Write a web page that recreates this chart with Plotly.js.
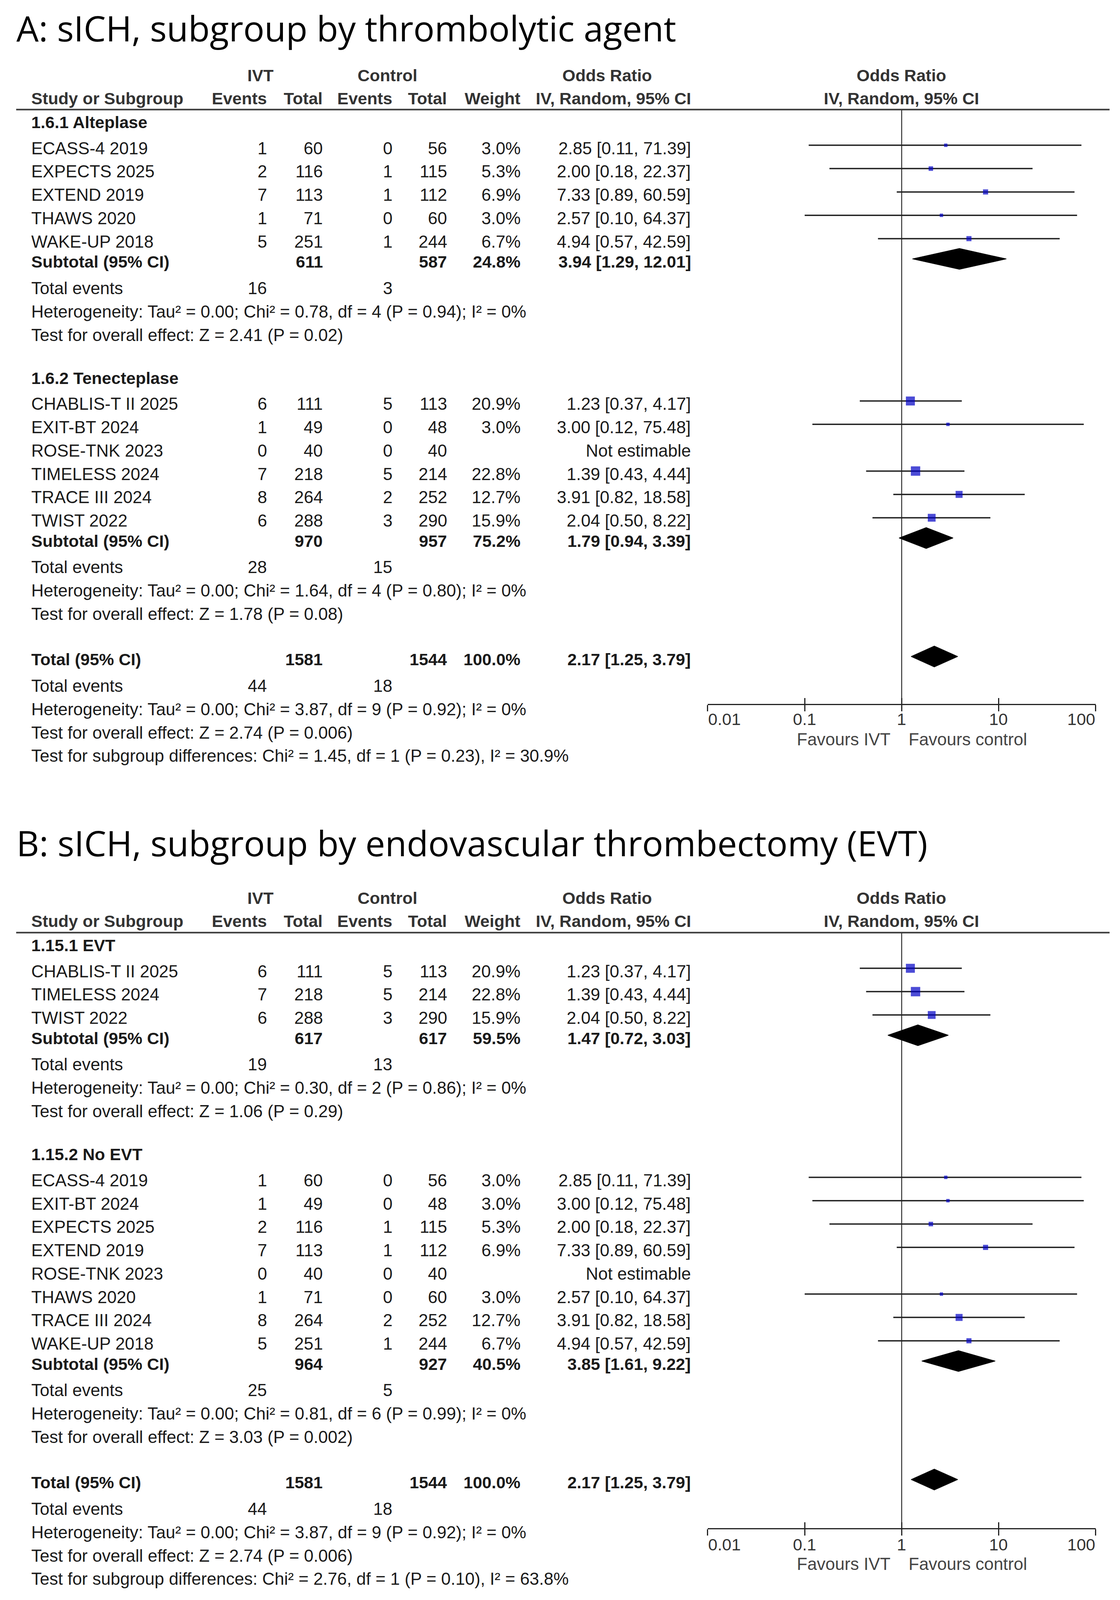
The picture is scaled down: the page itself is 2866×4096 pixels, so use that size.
<!DOCTYPE html>
<html><head><meta charset="utf-8">
<script src="https://cdn.plot.ly/plotly-3.0.1.min.js"></script>
<style>html,body{margin:0;padding:0;background:#fff;}#chart{width:2866px;height:4096px;}</style>
</head><body><div id="chart"></div>
<script>
// ---------------- DATA ----------------
const panelTitles = ['A: sICH, subgroup by thrombolytic agent',
                     'B: sICH, subgroup by endovascular thrombectomy (EVT)'];

const studyNames = ['ECASS-4 2019','EXPECTS 2025','EXTEND 2019','THAWS 2020','WAKE-UP 2018',
                    'CHABLIS-T II 2025','EXIT-BT 2024','ROSE-TNK 2023','TIMELESS 2024','TRACE III 2024','TWIST 2022'];
const ivtEvents  = [1, 2, 7, 1, 5, 6, 1, 0, 7, 8, 6];
const ivtTotal   = [60, 116, 113, 71, 251, 111, 49, 40, 218, 264, 288];
const ctrlEvents = [0, 1, 1, 0, 1, 5, 0, 0, 5, 2, 3];
const ctrlTotal  = [56, 115, 112, 60, 244, 113, 48, 40, 214, 252, 290];
const weightPct  = [3.0, 5.3, 6.9, 3.0, 6.7, 20.9, 3.0, null, 22.8, 12.7, 15.9];
const orEst      = [2.85, 2.00, 7.33, 2.57, 4.94, 1.23, 3.00, null, 1.39, 3.91, 2.04];
const orLow      = [0.11, 0.18, 0.89, 0.10, 0.57, 0.37, 0.12, null, 0.43, 0.82, 0.50];
const orHigh     = [71.39, 22.37, 60.59, 64.37, 42.59, 4.17, 75.48, null, 4.44, 18.58, 8.22];

const subgroupTitles = ['1.6.1 Alteplase', '1.6.2 Tenecteplase', '1.15.1 EVT', '1.15.2 No EVT'];
const subgroupStudies = [
  ['ECASS-4 2019','EXPECTS 2025','EXTEND 2019','THAWS 2020','WAKE-UP 2018'],
  ['CHABLIS-T II 2025','EXIT-BT 2024','ROSE-TNK 2023','TIMELESS 2024','TRACE III 2024','TWIST 2022'],
  ['CHABLIS-T II 2025','TIMELESS 2024','TWIST 2022'],
  ['ECASS-4 2019','EXIT-BT 2024','EXPECTS 2025','EXTEND 2019','ROSE-TNK 2023','THAWS 2020','TRACE III 2024','WAKE-UP 2018']
];
const panelSubgroups = [[0, 1], [2, 3]];
const subIvtTotal   = [611, 970, 617, 964];
const subCtrlTotal  = [587, 957, 617, 927];
const subWeight     = [24.8, 75.2, 59.5, 40.5];
const subOr         = [3.94, 1.79, 1.47, 3.85];
const subOrLow      = [1.29, 0.94, 0.72, 1.61];
const subOrHigh     = [12.01, 3.39, 3.03, 9.22];
const subIvtEvents  = [16, 28, 19, 25];
const subCtrlEvents = [3, 15, 13, 5];
const subTau2       = ['0.00', '0.00', '0.00', '0.00'];
const subChi2       = ['0.78', '1.64', '0.30', '0.81'];
const subDf         = [4, 4, 2, 6];
const subHetP       = ['0.94', '0.80', '0.86', '0.99'];
const subI2         = ['0', '0', '0', '0'];
const subZ          = ['2.41', '1.78', '1.06', '3.03'];
const subZP         = ['0.02', '0.08', '0.29', '0.002'];

const totalIvt = 1581, totalCtrl = 1544, totalWeight = 100.0;
const totalOr = 2.17, totalOrLow = 1.25, totalOrHigh = 3.79;
const totalIvtEvents = 44, totalCtrlEvents = 18;
const totalTau2 = '0.00', totalChi2 = '3.87', totalDf = 9, totalHetP = '0.92', totalI2 = '0';
const totalZ = '2.74', totalZP = '0.006';
const diffChi2 = ['1.45', '2.76'], diffDf = [1, 1], diffP = ['0.23', '0.10'], diffI2 = ['30.9', '63.8'];

const tickValues = [0.01, 0.1, 1, 10, 100];
const tickLabels = ['0.01', '0.1', '1', '10', '100'];

// ---------------- LAYOUT GEOMETRY (reference px, scaled) ----------------
const W = 2866, H = 4096, S = 0.811;
const px = v => v * S;
const TXT = '"Liberation Sans", Arial, sans-serif';
const TITLEF = '"Open Sans", "Noto Sans", sans-serif';
const COL = { name: 97, ivtEv: 844, ivtTot: 1020, ctlEv: 1239, ctlTot: 1412, weight: 1644, orTxt: 2181 };
const HDR = { ivt: 822, ctl: 1223, orL: 1915, orR: 2844 };
const AX_LEFT = 2233, AX_RIGHT = 3457, LINE_L = 51, LINE_R = 3501;
const panelGeom = [
  { titleY: 87,   h1: 238,  h2: 311,  line: 346,  axis: 2223, tick: 2270, fav: 2333 },
  { titleY: 2660, h1: 2835, h2: 2908, line: 2944, axis: 4825, tick: 4875, fav: 4937 }
];
const GAP = { headFirst: 40, headNext: 136, studyFirst: 81.5, study: 73.7, subtotal: 64,
              events: 83, het: 74, test: 74, total: 143, subdiff: 73 };
const MARK_DY = -9;     // marks sit slightly above text centre
const DIAMOND_H = 33;   // half height of diamonds
const SQ_K = 6.2;       // square side = SQ_K*sqrt(weight)

const fmtOR = (e, l, h) => `${e.toFixed(2)} [${l.toFixed(2)}, ${h.toFixed(2)}]`;
const het = (t, c, d, p, i) => `Heterogeneity: Tau² = ${t}; Chi² = ${c}, df = ${d} (P = ${p}); I² = ${i}%`;
const test = (z, p) => `Test for overall effect: Z = ${z} (P = ${p})`;

const annotations = [];
const shapes = [];
const traces = [];
const TXTC = '#1a1a1a', HDRC = '#333';

function txt(text, xFull, yFull, anchor, size, color, bold) {
  annotations.push({
    xref: 'paper', yref: 'y', x: px(xFull) / W, y: px(yFull),
    text: bold ? '<b>' + text + '</b>' : text, showarrow: false,
    xanchor: anchor, yanchor: 'middle', borderpad: 0,
    font: { family: TXT, size: size, color: color }
  });
}

panelGeom.forEach((g, pi) => {
  const xa = pi === 0 ? 'x' : 'x2';
  // title
  annotations.push({ xref: 'paper', yref: 'y', x: px(51) / W, y: px(g.titleY), text: panelTitles[pi],
    showarrow: false, xanchor: 'left', yanchor: 'middle', borderpad: 0,
    font: { family: TITLEF, size: 90, color: '#000' } });
  // headers
  txt('IVT', HDR.ivt, g.h1, 'center', 43, HDRC, true);
  txt('Control', HDR.ctl, g.h1, 'center', 43, HDRC, true);
  txt('Odds Ratio', HDR.orL, g.h1, 'center', 43, HDRC, true);
  txt('Odds Ratio', HDR.orR, g.h1, 'center', 43, HDRC, true);
  txt('Study or Subgroup', COL.name, g.h2, 'left', 43, HDRC, true);
  txt('Events', COL.ivtEv, g.h2, 'right', 43, HDRC, true);
  txt('Total', COL.ivtTot, g.h2, 'right', 43, HDRC, true);
  txt('Events', COL.ctlEv, g.h2, 'right', 43, HDRC, true);
  txt('Total', COL.ctlTot, g.h2, 'right', 43, HDRC, true);
  txt('Weight', COL.weight, g.h2, 'right', 43, HDRC, true);
  txt('IV, Random, 95% CI', COL.orTxt, g.h2, 'right', 43, HDRC, true);
  txt('IV, Random, 95% CI', HDR.orR, g.h2, 'center', 43, HDRC, true);
  shapes.push({ type: 'line', xref: 'paper', yref: 'y', x0: px(LINE_L) / W, x1: px(LINE_R) / W,
    y0: px(g.line), y1: px(g.line), line: { color: '#3a3a3a', width: 4 } });

  // vertical line of no effect
  traces.push({ type: 'scatter', mode: 'lines', xaxis: xa, yaxis: 'y', x: [1, 1],
    y: [px(g.line), px(g.axis)], line: { color: '#333', width: 2.5 }, hoverinfo: 'skip', showlegend: false });

  let y = g.line, prev = 'line';
  const ciX = [], ciY = [], sqX = [], sqY = [], sqS = [];
  const diamonds = [];
  panelSubgroups[pi].forEach(si => {
    y += prev === 'line' ? GAP.headFirst : GAP.headNext;
    txt(subgroupTitles[si], COL.name, y, 'left', 43, TXTC, true);
    prev = 'head';
    subgroupStudies[si].forEach(nm => {
      const k = studyNames.indexOf(nm);
      y += prev === 'head' ? GAP.studyFirst : GAP.study;
      prev = 'study';
      txt(nm, COL.name, y, 'left', 44, TXTC, false);
      txt(String(ivtEvents[k]), COL.ivtEv, y, 'right', 44, TXTC, false);
      txt(String(ivtTotal[k]), COL.ivtTot, y, 'right', 44, TXTC, false);
      txt(String(ctrlEvents[k]), COL.ctlEv, y, 'right', 44, TXTC, false);
      txt(String(ctrlTotal[k]), COL.ctlTot, y, 'right', 44, TXTC, false);
      if (orEst[k] === null) {
        txt('Not estimable', COL.orTxt, y, 'right', 44, TXTC, false);
      } else {
        txt(weightPct[k].toFixed(1) + '%', COL.weight, y, 'right', 44, TXTC, false);
        txt(fmtOR(orEst[k], orLow[k], orHigh[k]), COL.orTxt, y, 'right', 44, TXTC, false);
        const my = px(y + MARK_DY);
        ciX.push(orLow[k], orHigh[k], null); ciY.push(my, my, null);
        sqX.push(orEst[k]); sqY.push(my); sqS.push(px(SQ_K * Math.sqrt(weightPct[k])));
      }
    });
    y += GAP.subtotal; prev = 'subtotal';
    txt('Subtotal (95% CI)', COL.name, y, 'left', 43, TXTC, true);
    txt(String(subIvtTotal[si]), COL.ivtTot, y, 'right', 43, TXTC, true);
    txt(String(subCtrlTotal[si]), COL.ctlTot, y, 'right', 43, TXTC, true);
    txt(subWeight[si].toFixed(1) + '%', COL.weight, y, 'right', 43, TXTC, true);
    txt(fmtOR(subOr[si], subOrLow[si], subOrHigh[si]), COL.orTxt, y, 'right', 43, TXTC, true);
    diamonds.push([subOrLow[si], subOr[si], subOrHigh[si], y + MARK_DY]);
    y += GAP.events;
    txt('Total events', COL.name, y, 'left', 44, TXTC, false);
    txt(String(subIvtEvents[si]), COL.ivtEv, y, 'right', 44, TXTC, false);
    txt(String(subCtrlEvents[si]), COL.ctlEv, y, 'right', 44, TXTC, false);
    y += GAP.het;
    txt(het(subTau2[si], subChi2[si], subDf[si], subHetP[si], subI2[si]), COL.name, y, 'left', 44, TXTC, false);
    y += GAP.test; prev = 'test';
    txt(test(subZ[si], subZP[si]), COL.name, y, 'left', 44, TXTC, false);
  });
  // overall
  y += GAP.total;
  txt('Total (95% CI)', COL.name, y, 'left', 43, TXTC, true);
  txt(String(totalIvt), COL.ivtTot, y, 'right', 43, TXTC, true);
  txt(String(totalCtrl), COL.ctlTot, y, 'right', 43, TXTC, true);
  txt(totalWeight.toFixed(1) + '%', COL.weight, y, 'right', 43, TXTC, true);
  txt(fmtOR(totalOr, totalOrLow, totalOrHigh), COL.orTxt, y, 'right', 43, TXTC, true);
  diamonds.push([totalOrLow, totalOr, totalOrHigh, y + MARK_DY]);
  y += GAP.events;
  txt('Total events', COL.name, y, 'left', 44, TXTC, false);
  txt(String(totalIvtEvents), COL.ivtEv, y, 'right', 44, TXTC, false);
  txt(String(totalCtrlEvents), COL.ctlEv, y, 'right', 44, TXTC, false);
  y += GAP.het;
  txt(het(totalTau2, totalChi2, totalDf, totalHetP, totalI2), COL.name, y, 'left', 44, TXTC, false);
  y += GAP.test;
  txt(test(totalZ, totalZP), COL.name, y, 'left', 44, TXTC, false);
  y += GAP.subdiff;
  txt(`Test for subgroup differences: Chi² = ${diffChi2[pi]}, df = ${diffDf[pi]} (P = ${diffP[pi]}), I² = ${diffI2[pi]}%`,
      COL.name, y, 'left', 44, TXTC, false);

  traces.push({ type: 'scatter', mode: 'lines', xaxis: xa, yaxis: 'y', x: ciX, y: ciY,
    line: { color: '#222', width: 3.5 }, connectgaps: false, hoverinfo: 'skip', showlegend: false });
  traces.push({ type: 'scatter', mode: 'markers', xaxis: xa, yaxis: 'y', x: sqX, y: sqY,
    marker: { symbol: 'square', size: sqS, color: '#0000C4', line: { width: 0 } }, hoverinfo: 'skip', showlegend: false });
  diamonds.forEach(d => {
    const c = px(d[3]), h = px(DIAMOND_H);
    traces.push({ type: 'scatter', mode: 'lines', xaxis: xa, yaxis: 'y',
      x: [d[0], d[1], d[2], d[1], d[0]], y: [c, c - h, c, c + h, c],
      fill: 'toself', fillcolor: '#000', line: { color: '#000', width: 1.5 }, hoverinfo: 'skip', showlegend: false });
  });

  // axis tick labels and favours labels
  tickValues.forEach((v, i) => {
    annotations.push({ xref: xa, yref: 'y', x: Math.log10(v), y: px(g.tick), text: tickLabels[i],
      showarrow: false, xanchor: i === 0 ? 'left' : (i === tickValues.length - 1 ? 'right' : 'center'),
      yanchor: 'middle', borderpad: 0, font: { family: TXT, size: 43, color: '#333' } });
  });
  annotations.push({ xref: xa, yref: 'y', x: 0, y: px(g.fav), text: 'Favours IVT', showarrow: false,
    xanchor: 'right', xshift: px(-34), yanchor: 'middle', borderpad: 0, font: { family: TXT, size: 44, color: '#444' } });
  annotations.push({ xref: xa, yref: 'y', x: 0, y: px(g.fav), text: 'Favours control', showarrow: false,
    xanchor: 'left', xshift: px(21), yanchor: 'middle', borderpad: 0, font: { family: TXT, size: 44, color: '#444' } });
});

// invisible anchors for the overlay tick axes
traces.push({ type: 'scatter', mode: 'markers', xaxis: 'x3', yaxis: 'y', x: [1], y: [px(panelGeom[0].axis)],
  marker: { opacity: 0 }, hoverinfo: 'skip', showlegend: false });
traces.push({ type: 'scatter', mode: 'markers', xaxis: 'x4', yaxis: 'y', x: [1], y: [px(panelGeom[1].axis)],
  marker: { opacity: 0 }, hoverinfo: 'skip', showlegend: false });

const dom = [px(AX_LEFT) / W, px(AX_RIGHT) / W];
function mainAxis(g) {
  return { type: 'log', range: [-2, 2], domain: dom, anchor: 'free', position: 1 - px(g.axis) / H,
    showline: true, linecolor: '#222', linewidth: 3, ticks: 'outside', ticklen: 16, tickwidth: 3,
    tickcolor: '#222', tickmode: 'array', tickvals: tickValues, showticklabels: false,
    showgrid: false, zeroline: false, fixedrange: true };
}
function overlayAxis(ov, g) {
  return { type: 'log', range: [-2, 2], overlaying: ov, anchor: 'free', position: 1 - px(g.axis) / H,
    showline: false, ticks: 'inside', ticklen: 16, tickwidth: 3, tickcolor: '#222',
    tickmode: 'array', tickvals: tickValues, showticklabels: false, showgrid: false, zeroline: false, fixedrange: true };
}

const layout = {
  width: W, height: H, margin: { l: 0, r: 0, t: 0, b: 0 },
  paper_bgcolor: '#fff', plot_bgcolor: 'rgba(0,0,0,0)', showlegend: false, hovermode: false,
  xaxis: mainAxis(panelGeom[0]), xaxis2: mainAxis(panelGeom[1]),
  xaxis3: overlayAxis('x', panelGeom[0]), xaxis4: overlayAxis('x2', panelGeom[1]),
  yaxis: { range: [H, 0], domain: [0, 1], visible: false, fixedrange: true },
  annotations: annotations, shapes: shapes
};
Plotly.newPlot('chart', traces, layout, { staticPlot: true, displayModeBar: false });
</script></body></html>
